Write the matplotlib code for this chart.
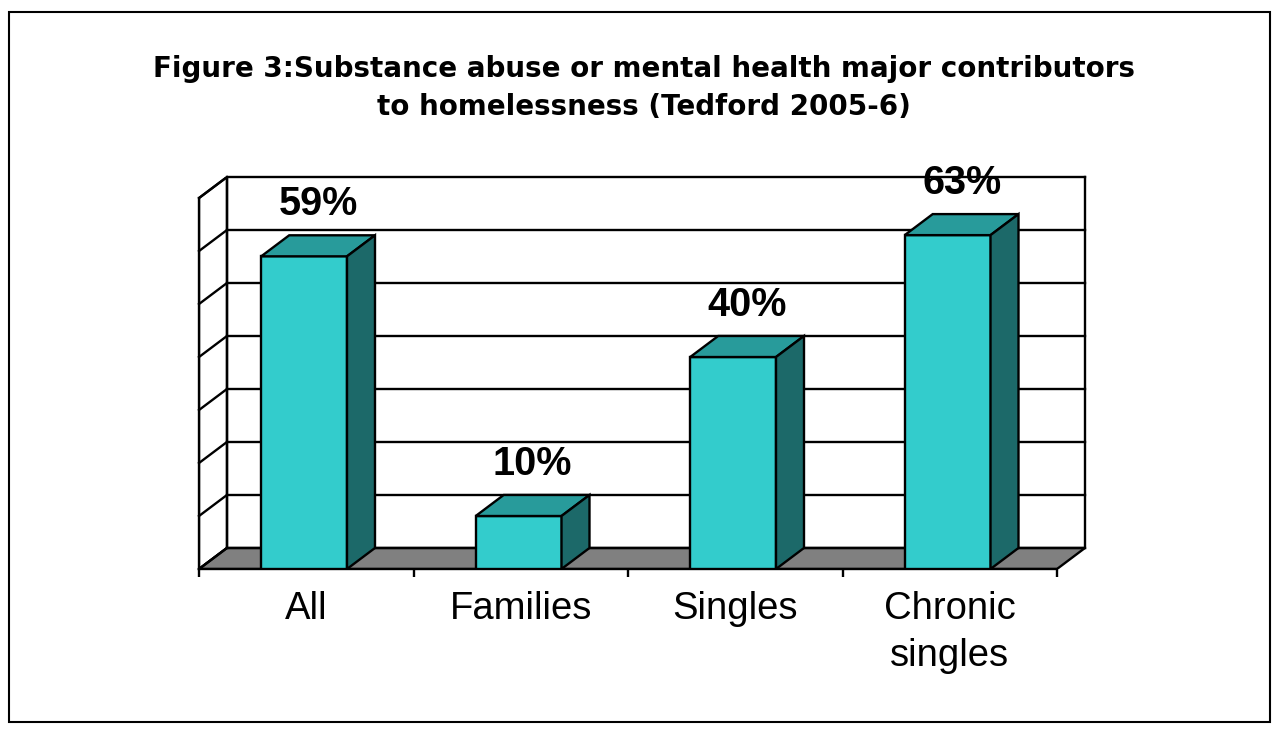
import matplotlib
matplotlib.use("Agg")
import matplotlib.pyplot as plt
from matplotlib.patches import Polygon, Rectangle

# data
categories = ["All", "Families", "Singles", "Chronic\nsingles"]
values = [59, 10, 40, 63]
labels = ["59%", "10%", "40%", "63%"]
title_lines = ["Figure 3:Substance abuse or mental health major contributors",
               "to homelessness (Tedford 2005-6)"]

# colours
front_c = "#33CCCC"
top_c = "#289B9B"
side_c = "#1C6969"
floor_c = "#808080"

ymax = 70
step = 10
dx = 0.1305     # depth offset in category units
dy = 3.97       # depth offset in percent units
bar_l, bar_r = 0.29, 0.69

fig = plt.figure(figsize=(12.74, 7.30), dpi=100)
fig.patches.append(Rectangle((9 / 1274, 8 / 730), 1261 / 1274, 710 / 730,
                             transform=fig.transFigure, fill=False,
                             edgecolor="black", linewidth=1.5))

ax = fig.add_axes([199 / 1274, 161 / 730, 886 / 1274, 392 / 730])
n = len(categories)
ax.set_xlim(0, n + dx)
ax.set_ylim(0, ymax + dy)
ax.set_facecolor("none")

lw = 1.7
# left wall
ax.add_patch(Polygon([(0, 0), (dx, dy), (dx, ymax + dy), (0, ymax)],
                     closed=True, facecolor="white", edgecolor="black", lw=lw, zorder=1))
# floor
ax.add_patch(Polygon([(0, 0), (n, 0), (n + dx, dy), (dx, dy)],
                     closed=True, facecolor=floor_c, edgecolor="black", lw=lw, zorder=1))
# back wall gridlines and left wall ticks
for k in range(0, ymax + step, step):
    ax.plot([dx, n + dx], [k + dy, k + dy], color="black", lw=lw, zorder=2, clip_on=False)
    ax.plot([0, dx], [k, k + dy], color="black", lw=lw, zorder=2, clip_on=False)
ax.plot([dx, dx], [dy, ymax + dy], color="black", lw=lw, zorder=2)
ax.plot([n + dx, n + dx], [dy, ymax + dy], color="black", lw=lw, zorder=2, clip_on=False)

# bars
for i, v in enumerate(values):
    x0, x1 = i + bar_l, i + bar_r
    ax.add_patch(Polygon([(x0, 0), (x1, 0), (x1, v), (x0, v)], closed=True,
                         facecolor=front_c, edgecolor="black", lw=lw, zorder=5))
    ax.add_patch(Polygon([(x0, v), (x1, v), (x1 + dx, v + dy), (x0 + dx, v + dy)], closed=True,
                         facecolor=top_c, edgecolor="black", lw=lw, zorder=5))
    ax.add_patch(Polygon([(x1, 0), (x1 + dx, dy), (x1 + dx, v + dy), (x1, v)], closed=True,
                         facecolor=side_c, edgecolor="black", lw=lw, zorder=5))
    ax.text((x0 + x1 + dx) / 2, v + dy + 3.8, labels[i], ha="center", va="baseline",
            fontsize=28.5, fontweight="bold", family="Liberation Sans", zorder=6, clip_on=False)

# axes: spines and ticks
for s in ["top", "right"]:
    ax.spines[s].set_visible(False)
ax.spines["bottom"].set_bounds(0, n)
ax.spines["left"].set_bounds(0, ymax)
for s in ["bottom", "left"]:
    ax.spines[s].set_linewidth(lw)
    ax.spines[s].set_zorder(3)
ax.set_yticks([])
ax.set_xticks(range(n + 1))
ax.set_xticklabels([])
ax.set_xticks([i + 0.5 for i in range(n)], minor=True)
ax.set_xticklabels(categories, minor=True, fontsize=27.5, family="Liberation Sans",
                   linespacing=1.4)
ax.tick_params(axis="x", which="major", direction="out", length=6, width=lw)
ax.tick_params(axis="x", which="minor", length=0, pad=16)

# title
fig.text(644 / 1274, 1 - 77 / 730, title_lines[0], ha="center", va="baseline",
         fontsize=20, fontweight="bold", family="DejaVu Sans")
fig.text(644 / 1274, 1 - 115 / 730, title_lines[1], ha="center", va="baseline",
         fontsize=20, fontweight="bold", family="DejaVu Sans")

fig.savefig("out.png", dpi=100)
